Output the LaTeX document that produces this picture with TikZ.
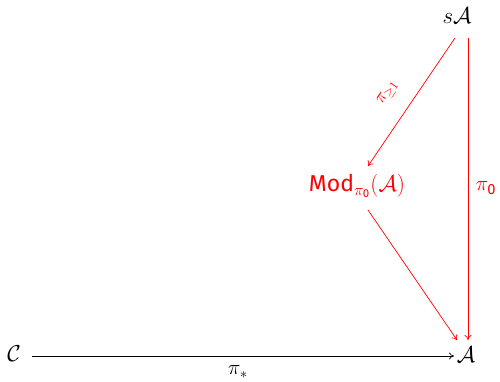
\RequirePackage{fix-cm}
\documentclass[tikz,border=0pt]{standalone}
\usepackage{fontspec}
\setsansfont{Fira Sans}
\usetikzlibrary{arrows.meta}
\begin{document}
\begin{tikzpicture}[x=1pt,y=-1pt,
  obj/.style={inner sep=2pt,font=\fontsize{23}{27}\selectfont},
  redarr/.style={draw=red,-{To[length=5pt,width=7pt]},line width=0.7pt},
  blkarr/.style={draw=black,-{To[length=5pt,width=7pt]},line width=0.7pt},
  lbl/.style={font=\fontsize{21}{25}\selectfont}]
\useasboundingbox (0,0) rectangle (500,381);
\node[obj] (sA) at (457,16) {$s\mathcal{A}$};
\node[obj,text=red] (Mod) at (357,186) {\textsf{Mod}$_{\pi_{\mathsf{0}}}(\mathcal{A})$};
\node[obj] (C) at (14,354) {$\mathcal{C}$};
\node[obj] (A) at (466,355) {$\mathcal{A}$};
\coordinate (s1) at (455,38);
\coordinate (s2) at (468,38);
\coordinate (m1) at (368,166);
\coordinate (m2) at (368,210);
\coordinate (a1) at (457,340);
\coordinate (a2) at (468,340);
\coordinate (c1) at (32,356);
\coordinate (a3) at (454,356);
\draw[redarr] (s1) -- (m1);
\draw[redarr] (s2) -- (a2);
\draw[redarr] (m2) -- (a1);
\draw[blkarr] (c1) -- (a3);
\node[lbl,text=red] at (486,188) {$\pi_{\mathsf{0}}$};
\node[lbl] at (238,372) {$\pi_*$};
\node[text=red,rotate=56,inner sep=0pt,font=\fontsize{18}{21}\selectfont] at (388,93) {$\pi_{\geq 1}$};
\end{tikzpicture}
\end{document}
